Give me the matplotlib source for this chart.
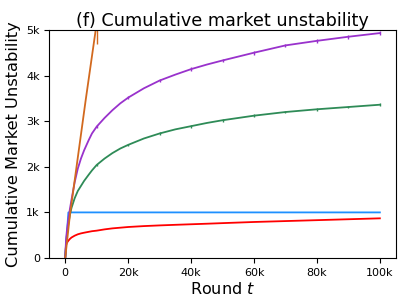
import numpy as np
import matplotlib
matplotlib.use('Agg')
import matplotlib.pyplot as plt
from matplotlib.ticker import FuncFormatter

rounds = [0, 250, 500, 1000, 1500, 2000, 3000, 4000, 5000, 6000, 7500,
          8500, 10000, 12500, 15000, 17500, 20000, 25000, 30000, 35000,
          40000, 45000, 50000, 60000, 70000, 80000, 90000, 100000]

purple = [0, 380, 580, 850, 1080, 1280, 1660, 1960, 2180, 2360, 2590,
          2730, 2880, 3070, 3240, 3390, 3515, 3720, 3890, 4020,
          4140, 4240, 4330, 4500, 4660, 4760, 4850, 4930]
green = [0, 300, 480, 750, 950, 1100, 1310, 1470, 1580, 1690, 1830,
         1920, 2040, 2180, 2300, 2400, 2480, 2620, 2730, 2820,
         2890, 2960, 3020, 3120, 3200, 3260, 3310, 3360]
red = [0, 280, 330, 380, 420, 450, 490, 520, 540, 555, 575,
       588, 600, 628, 650, 665, 680, 700, 715, 728,
       740, 752, 765, 790, 810, 830, 850, 870]
blue = [0, 250, 500, 1000, 1000, 1000, 1000, 1000, 1000, 1000, 1000,
        1000, 1000, 1000, 1000, 1000, 1000, 1000, 1000, 1000,
        1000, 1000, 1000, 1000, 1000, 1000, 1000, 1000]
orange_t = [0, 1500, 3000, 6500, 10000, 20000]
orange = [0, 950, 1700, 3460, 5150, 10200]

# error bars every 10k rounds
err_t = [10000, 20000, 30000, 40000, 50000, 60000, 70000, 80000, 90000, 100000]
purple_err = [40, 40, 40, 40, 40, 40, 40, 40, 40, 40]
green_err = [30, 30, 30, 30, 30, 30, 30, 30, 30, 30]
orange_err = [450]

fig = plt.figure(figsize=(4.07, 3.05), dpi=100)
ax = fig.add_axes([0.1216, 0.154, 0.972 - 0.1216, 0.748])

series = [
    (rounds, red, 'red', None),
    (rounds, blue, '#1e90ff', None),
    (rounds, green, '#2e8b57', green_err),
    (rounds, purple, '#9932cc', purple_err),
    (orange_t, orange, '#d2691e', None),
]
for t, y, c, e in series:
    ax.plot(t, y, color=c, lw=1.3)
    if e is not None:
        yy = [y[t.index(k)] for k in err_t]
        ax.errorbar(err_t, yy, yerr=e, fmt='none', ecolor=c, elinewidth=1.0)
ax.errorbar([orange_t[4]], [orange[4]], yerr=orange_err, fmt='none',
            ecolor='#d2691e', elinewidth=1.0)

ax.set_xlim(-5000, 105000)
ax.set_ylim(0, 5000)
ax.set_xticks([0, 20000, 40000, 60000, 80000, 100000])
ax.set_yticks([0, 1000, 2000, 3000, 4000, 5000])
fmt = FuncFormatter(lambda v, p: '0' if v == 0 else '%dk' % (v / 1000))
ax.xaxis.set_major_formatter(fmt)
ax.yaxis.set_major_formatter(fmt)
ax.tick_params(labelsize=8)

ax.set_title('(f) Cumulative market unstability', fontsize=12.7, pad=3)
ax.set_xlabel('Round $t$', fontsize=11.5, labelpad=2)
ax.set_ylabel('Cumulative Market Unstability', fontsize=11.7, labelpad=4)

fig.savefig('out.png', dpi=100)
